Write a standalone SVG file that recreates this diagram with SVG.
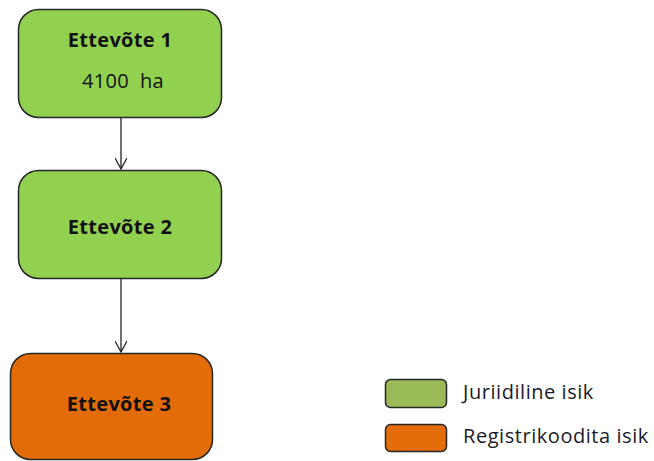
<svg xmlns="http://www.w3.org/2000/svg" width="654" height="461" viewBox="0 0 654 461">
<style>
.box{stroke:#262626;stroke-width:1.5}
.g{fill:#92d050}
.o{fill:#e36c09}
.t{font-family:"Open Sans","Liberation Sans",sans-serif;font-weight:bold;font-size:20px;letter-spacing:0.3px;fill:#111;text-anchor:middle}
.n{font-family:"Open Sans","Liberation Sans",sans-serif;font-size:20px;letter-spacing:0.3px;fill:#111;text-anchor:middle;white-space:pre}
.l{font-family:"Open Sans","Liberation Sans",sans-serif;font-size:20px;letter-spacing:0.55px;fill:#1a1a2a}
.c{stroke:#222;stroke-width:1.3;fill:none}
</style>
<defs>
<marker id="a" viewBox="0 0 12 12" refX="11" refY="6" markerWidth="12" markerHeight="12" markerUnits="userSpaceOnUse" orient="auto">
<path d="M0,0 L11,6 L0,12" fill="none" stroke="#222" stroke-width="1.3"/>
</marker>
</defs>
<g id="connectors">
<line class="c" x1="121" y1="118" x2="121" y2="169" marker-end="url(#a)"/>
<line class="c" x1="121" y1="279" x2="121" y2="352" marker-end="url(#a)"/>
</g>
<g id="n1">
<rect class="box g" x="18.5" y="9.5" width="203" height="108" rx="20"/>
<text class="t" x="120" y="47">Ettevõte 1</text>
<text class="n" x="123" y="88">4100  ha</text>
</g>
<g id="n2">
<rect class="box g" x="18.5" y="170.5" width="203" height="108" rx="20"/>
<text class="t" x="120" y="234">Ettevõte 2</text>
</g>
<g id="n3">
<rect class="box o" x="10.5" y="353.5" width="202" height="106" rx="20"/>
<text class="t" x="119" y="411">Ettevõte 3</text>
</g>
<g id="legend">
<rect class="box" x="385.5" y="379.5" width="61" height="28" rx="5" fill="#9bbb59"/>
<text class="l" x="463" y="399">Juriidiline isik</text>
<rect class="box" x="385.5" y="424.5" width="61" height="27" rx="5" fill="#e46c0a"/>
<text class="l" x="463" y="443">Registrikoodita isik</text>
</g>
</svg>
